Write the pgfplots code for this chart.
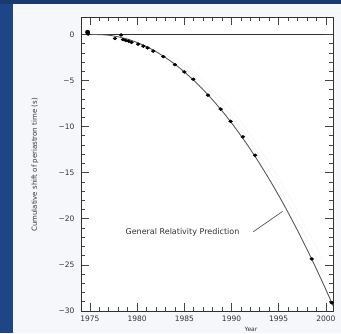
\documentclass[border=0pt]{standalone}
\usepackage{pgfplots}
\pgfplotsset{compat=1.18}
\usepackage{fontspec}
\setmainfont{DejaVu Sans}
\definecolor{bgblue}{RGB}{28,70,134}
\definecolor{topblue}{RGB}{24,58,112}
\definecolor{panel}{RGB}{245,247,250}
\definecolor{ink}{RGB}{50,50,50}
\definecolor{tickc}{RGB}{70,70,70}
\begin{document}
\begin{tikzpicture}
\useasboundingbox (0pt,0pt) rectangle (341pt,333pt);
\fill[panel] (0pt,0pt) rectangle (341pt,333pt);
\fill[bgblue] (0pt,0pt) rectangle (13pt,333pt);
\fill[topblue] (0pt,329pt) rectangle (341pt,333pt);
\fill[white] (81pt,22pt) rectangle (333pt,316pt);
\begin{axis}[
  at={(81pt,22pt)}, anchor=south west,
  scale only axis, width=252pt, height=294pt,
  xmin=1974.05, xmax=2000.75, ymin=-30, ymax=1.9,
  axis on top,
  axis line style={ink, line width=0.7pt},
  xtick={1975,1980,1985,1990,1995,2000},
  xticklabels={1975,1980,1985,1990,1995,2000},
  ytick={-30,-25,-20,-15,-10,-5,0},
  yticklabels={−30,−25,−20,−15,−10,−5,0},
  minor x tick num=4,
  minor y tick num=4,
  xtick pos=both, ytick pos=both,
  xtick align=inside, ytick align=inside,
  major tick length=8pt, minor tick length=4pt,
  major tick style={tickc, line width=0.8pt},
  minor tick style={tickc, line width=0.8pt},
  ticklabel style={font=\fontsize{7.5}{8}\selectfont, text=ink},
  xticklabel style={yshift=-1pt},
  yticklabel style={xshift=-3pt},
  clip=false,
]
\addplot[ink, line width=0.6pt] coordinates {(1974.05,0) (2000.75,0)};
% faint ghost curves
\addplot[gray!12, line width=0.5pt, smooth, xshift=5pt] coordinates {
(1982,-1.86) (1984,-3.23) (1986,-4.98) (1988,-7.10) (1990,-9.59) (1992,-12.46) (1994,-15.71) (1996,-19.33) (1998,-23.32) (1999,-25.46)};
\addplot[gray!8, line width=0.5pt, smooth, xshift=10pt] coordinates {
(1983,-2.50) (1985,-4.06) (1987,-5.99) (1989,-8.30) (1991,-10.98) (1993,-14.04) (1995,-17.47) (1997,-21.28) (1998.5,-24.35)};
% GR prediction curve
\addplot[black!65, line width=0.9pt, smooth] coordinates {
(1975,0) (1976,-0.01) (1977,-0.08) (1978,-0.25) (1979,-0.51) (1980,-0.87)
(1981,-1.32) (1982,-1.86) (1983,-2.50) (1984,-3.23) (1985,-4.06) (1986,-4.98)
(1987,-5.99) (1988,-7.10) (1989,-8.30) (1990,-9.59) (1991,-10.98) (1992,-12.46)
(1993,-14.04) (1994,-15.71) (1995,-17.47) (1996,-19.33) (1997,-21.28)
(1998,-23.32) (1999,-25.46) (2000,-27.69) (2000.75,-29.42)};
% measurements
\addplot[only marks, mark=*, mark size=1.5pt, mark options={black, xscale=1.3}] coordinates {
(1974.8,0.05) (1977.65,-0.43) (1978.3,-0.05) (1978.5,-0.55) (1978.8,-0.65)
(1979.1,-0.72) (1979.4,-0.85) (1980.1,-1.05) (1980.65,-1.26) (1981.1,-1.45)
(1981.7,-1.8) (1982.77,-2.4) (1984.0,-3.27) (1985.0,-4.06) (1985.95,-4.85)
(1987.5,-6.58) (1988.85,-8.09) (1989.9,-9.42) (1991.2,-11.1) (1992.5,-13.1)
(1998.5,-24.35) (2000.6,-29.1)};
\addplot[only marks, mark=*, mark size=2.2pt, mark options={black}] coordinates {(1974.75,0.25)};
\node[font=\fontsize{8}{9}\selectfont, text=ink] at (axis cs:1984.8,-21.5) {General Relativity Prediction};
\draw[black!65, line width=0.7pt] (axis cs:1992.3,-21.4) -- (axis cs:1995.4,-19.2);
\end{axis}
\node[rotate=90, font=\fontsize{7}{8}\selectfont, text=ink] at (35pt,168pt) {Cumulative shift of periastron time (s)};
\node[font=\fontsize{6}{7}\selectfont, text=ink] at (251pt,3.5pt) {Year};
\end{tikzpicture}
\end{document}
